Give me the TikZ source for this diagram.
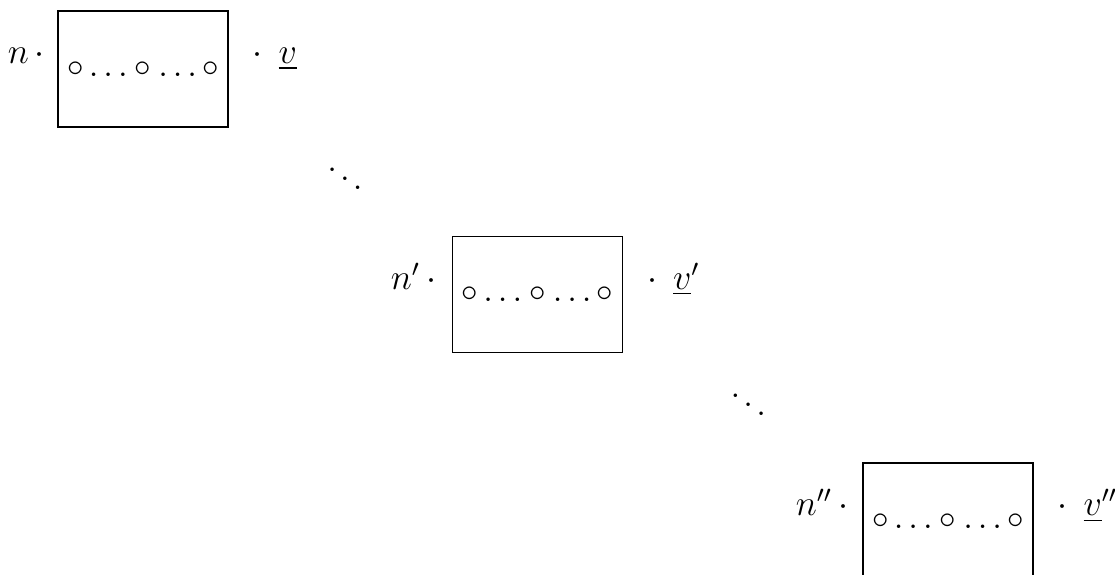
\documentclass[11pt,tikz,border=0pt]{standalone}
\usetikzlibrary{positioning}
\begin{document}
\begin{tikzpicture}[x=1pt,y=1pt,
    cell/.style={draw,minimum width=56.67pt,minimum height=38.67pt,inner sep=0pt},
    lbl/.style={inner sep=0pt,font=\large}]
      \useasboundingbox (0,0) rectangle (371.67,-191.67);
      \draw
        (47.67,-23) node[cell] (b1){$\circ\ldots\circ\ldots\circ$}
        (179.17,-98.17) node[cell] (b2){$\circ\ldots\circ\ldots\circ$}
        (316,-173.67) node[cell] (b3){$\circ\ldots\circ\ldots\circ$};
      \begin{scope}[every node/.style={lbl}]
        \node[anchor=base east] (n1) at ([shift={(-4pt,1.7pt)}]b1.west) {$n\,\cdot$};
        \node[anchor=base east] (n2) at ([shift={(-5pt,1.7pt)}]b2.west) {$n'\,\cdot$};
        \node[anchor=base east] (n3) at ([shift={(-4.5pt,1.7pt)}]b3.west) {$n''\,\cdot$};
        \node[anchor=base west] (v1) at ([shift={(7.8pt,1.7pt)}]b1.east) {$\cdot\;\,\underline{v}$};
        \node[anchor=base west] (v2) at ([shift={(7.8pt,1.7pt)}]b2.east) {$\cdot\;\,\underline{v}'$};
        \node[anchor=base west] (v3) at ([shift={(7.8pt,1.7pt)}]b3.east) {$\cdot\;\,\underline{v}''$};
      \end{scope}
      \node[anchor=base,inner sep=0pt] (d1) at (115,-64.15) {$\ddots$};
      \node[anchor=base,inner sep=0pt] (d2) at (249.43,-139.48) {$\ddots$};
    \end{tikzpicture}
\end{document}
